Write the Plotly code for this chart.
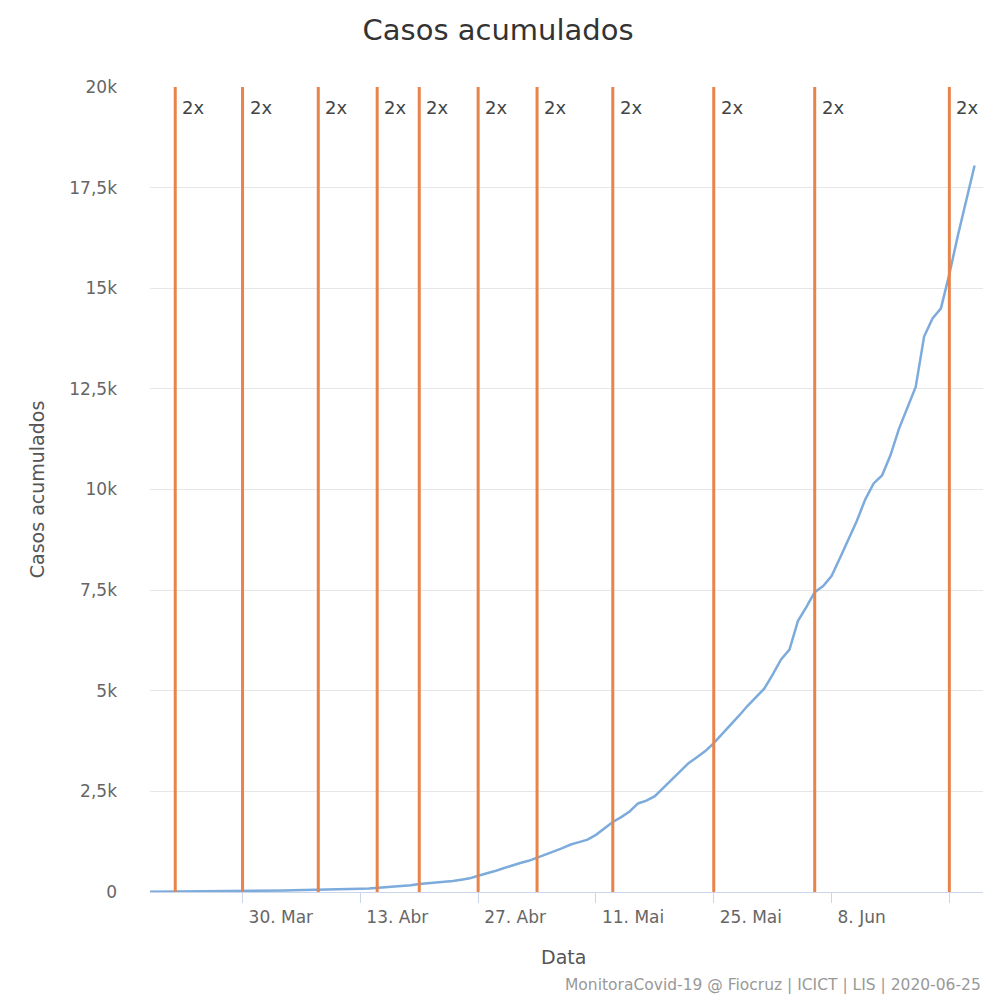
import pandas as pd
import plotly.graph_objects as go

# casos acumulados por dia (19/03 a 25/06/2020)
start_date = "2020-03-19"
casos = [5, 6, 8, 11, 13, 15, 16, 18, 19, 21, 23,
         24, 26, 29, 32, 35, 38, 41, 44, 47, 52, 56, 62, 68, 74, 81, 90,
         104, 118, 132, 148, 168, 200, 218, 232, 248, 275, 305, 340,
         405, 455, 520, 590, 660, 720, 775, 860, 940, 1010, 1090, 1180, 1240, 1300,
         1420, 1580, 1740, 1860, 2000, 2200, 2270, 2380, 2580, 2790, 3000, 3200, 3350, 3500,
         3700, 3920, 4140, 4380, 4620, 4830, 5050, 5400, 5780, 6020, 6730, 7080,
         7450, 7600, 7850, 8300, 8750, 9220, 9750, 10150, 10350, 10850, 11500, 12020,
         12550, 13800, 14250, 14500, 15350, 16300, 17150, 18050]
datas = pd.date_range(start_date, periods=len(casos), freq="D")

# dias em que os casos dobraram
dobras = ["2020-03-22", "2020-03-30", "2020-04-08", "2020-04-15", "2020-04-20",
          "2020-04-27", "2020-05-04", "2020-05-13", "2020-05-25", "2020-06-06",
          "2020-06-22"]

tick_datas = ["2020-03-30", "2020-04-13", "2020-04-27", "2020-05-11",
              "2020-05-25", "2020-06-08", "2020-06-22"]
tick_labels = ["30. Mar", "13. Abr", "27. Abr", "11. Mai", "25. Mai", "8. Jun", ""]

y_ticks = [0, 2500, 5000, 7500, 10000, 12500, 15000, 17500, 20000]
y_labels = ["0", "2,5k", "5k", "7,5k", "10k", "12,5k", "15k", "17,5k", "20k"]

fonte = "DejaVu Sans"

fig = go.Figure()
fig.add_trace(go.Scatter(x=datas, y=casos, mode="lines",
                         line=dict(color="#7cabdc", width=2.5),
                         showlegend=False))

for d in dobras:
    fig.add_shape(type="line", x0=d, x1=d, y0=0, y1=1, xref="x", yref="paper",
                  line=dict(color="#e8834a", width=3), layer="above")
    fig.add_annotation(x=d, y=1, xref="x", yref="paper", text="2x",
                       showarrow=False, xanchor="left", yanchor="top",
                       xshift=5, yshift=-8,
                       font=dict(family=fonte, size=18, color="#444"))

fig.add_annotation(x=0.496, y=-0.081, xref="paper", yref="paper", text="Data",
                   showarrow=False, xanchor="center", yanchor="middle",
                   font=dict(family=fonte, size=19, color="#555"))
fig.add_annotation(x=-0.136, y=0.5, xref="paper", yref="paper", text="Casos acumulados",
                   showarrow=False, textangle=-90, xanchor="center", yanchor="middle",
                   font=dict(family=fonte, size=19, color="#555"))
fig.add_annotation(x=1.0, y=-0.1155, xref="paper", yref="paper",
                   text="MonitoraCovid-19 @ Fiocruz | ICICT | LIS | 2020-06-25",
                   showarrow=False, xanchor="right", yanchor="middle",
                   font=dict(family=fonte, size=15.5, color="#999"))

fig.update_layout(
    width=992, height=992,
    margin=dict(l=142, r=17, t=79, b=108),
    paper_bgcolor="white", plot_bgcolor="white",
    title=dict(text="Casos acumulados", x=0.494, xref="container", y=1 - 22 / 992,
               yref="container", xanchor="center", yanchor="middle",
               font=dict(family=fonte, size=29, color="#333")),
    font=dict(family=fonte),
)
fig.update_xaxes(range=["2020-03-19", "2020-06-26"], tickvals=tick_datas,
                 ticktext=tick_labels, ticks="outside", ticklen=10,
                 tickcolor="#ccd6eb", showline=True, linecolor="#ccd6eb",
                 linewidth=1, showgrid=False, zeroline=False,
                 ticklabelposition="outside right", ticklabelshift=5,
                 ticklabelstandoff=10,
                 tickfont=dict(family=fonte, size=17, color="#666"))
fig.update_yaxes(range=[0, 20000], tickvals=y_ticks, ticktext=y_labels,
                 showgrid=True, gridcolor="#e6e6e6", gridwidth=1,
                 zeroline=False, showline=False, ticklabelstandoff=32,
                 tickfont=dict(family=fonte, size=17, color="#666"))

fig.write_html("out.html")
